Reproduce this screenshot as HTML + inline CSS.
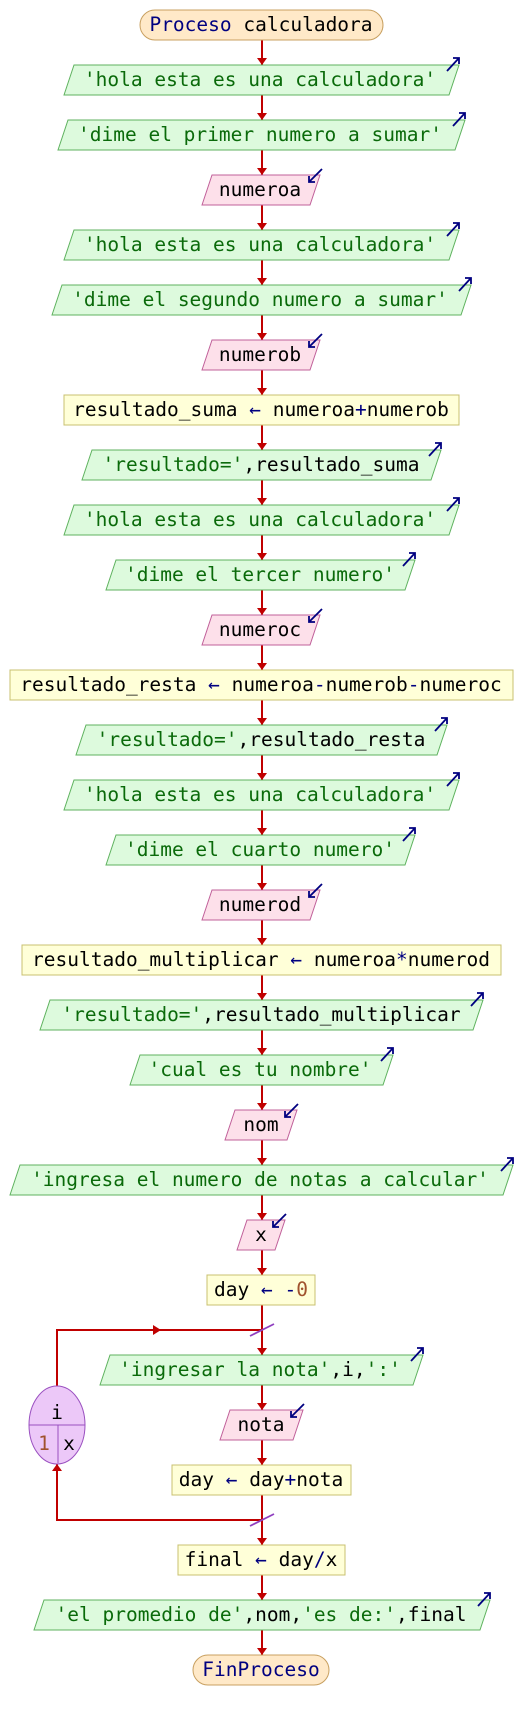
<!DOCTYPE html>
<html><head><meta charset="utf-8"><style>
html,body{margin:0;padding:0;background:#fff;}
svg{display:block;}
text{font-family:"DejaVu Sans Mono","Liberation Mono",monospace;font-size:19.5px;}
.g{fill:#0a6a0a}.k{fill:#000}.n{fill:#000080}.o{fill:#a0522d}
.out{fill:#ddfadd;stroke:#5fb25f;stroke-width:1}
.inp{fill:#fde0ea;stroke:#c0609a;stroke-width:1}
.asg{fill:#ffffd8;stroke:#c8c070;stroke-width:1}
.ic{stroke:#000080;stroke-width:1.8;fill:none}
</style></head><body>
<svg width="524" height="1720" viewBox="0 0 524 1720" xmlns="http://www.w3.org/2000/svg">
<rect width="524" height="1720" fill="#fff"/>
<!-- main spine -->
<line x1="262" y1="40" x2="262" y2="1655" stroke="#c00000" stroke-width="2"/>
<!-- loop -->
<polyline points="262,1520 57,1520 57,1464" fill="none" stroke="#c00000" stroke-width="2"/>
<polyline points="57,1386 57,1330 262,1330" fill="none" stroke="#c00000" stroke-width="2"/>
<polygon points="153,1325 161,1330 153,1335" fill="#c00000"/>
<polygon points="52,1471 62,1471 57,1464" fill="#c00000"/>
<line x1="250" y1="1336" x2="274" y2="1324" stroke="#9040c0" stroke-width="1.8"/>
<line x1="250" y1="1526" x2="274" y2="1514" stroke="#9040c0" stroke-width="1.8"/>
<!-- arrowheads -->
<g fill="#c00000">
<polygon points="257,58 267,58 262,65"/><polygon points="257,113 267,113 262,120"/>
<polygon points="257,168 267,168 262,175"/><polygon points="257,223 267,223 262,230"/>
<polygon points="257,278 267,278 262,285"/><polygon points="257,333 267,333 262,340"/>
<polygon points="257,388 267,388 262,395"/><polygon points="257,443 267,443 262,450"/>
<polygon points="257,498 267,498 262,505"/><polygon points="257,553 267,553 262,560"/>
<polygon points="257,608 267,608 262,615"/><polygon points="257,663 267,663 262,670"/>
<polygon points="257,718 267,718 262,725"/><polygon points="257,773 267,773 262,780"/>
<polygon points="257,828 267,828 262,835"/><polygon points="257,883 267,883 262,890"/>
<polygon points="257,938 267,938 262,945"/><polygon points="257,993 267,993 262,1000"/>
<polygon points="257,1048 267,1048 262,1055"/><polygon points="257,1103 267,1103 262,1110"/>
<polygon points="257,1158 267,1158 262,1165"/><polygon points="257,1213 267,1213 262,1220"/>
<polygon points="257,1268 267,1268 262,1275"/><polygon points="257,1348 267,1348 262,1355"/>
<polygon points="257,1403 267,1403 262,1410"/><polygon points="257,1458 267,1458 262,1465"/>
<polygon points="257,1538 267,1538 262,1545"/><polygon points="257,1593 267,1593 262,1600"/>
<polygon points="257,1648 267,1648 262,1655"/>
</g>

<!-- start -->
<rect x="140" y="10" width="243" height="30" rx="15" fill="#ffe9c8" stroke="#c8a060"/>
<text x="261" y="31" text-anchor="middle"><tspan class="n">Proceso</tspan> <tspan class="k">calculadora</tspan></text>

<!-- outputs -->
<polygon class="out" points="64,95 74,65 459,65 449,95"/>
<text x="260" y="86" text-anchor="middle" class="g">'hola esta es una calculadora'</text>
<path class="ic" d="M447,71 L459,58 M453,58 L459,58 L459,64"/>

<polygon class="out" points="58,150 68,120 465,120 455,150"/>
<text x="260" y="141" text-anchor="middle" class="g">'dime el primer numero a sumar'</text>
<path class="ic" d="M453,126 L465,113 M459,113 L465,113 L465,119"/>

<polygon class="inp" points="202,205 212,175 320,175 310,205"/>
<text x="260" y="196" text-anchor="middle" class="k">numeroa</text>
<path class="ic" d="M322,169 L309,182 M309,176 L309,182 L315,182"/>

<polygon class="out" points="64,260 74,230 459,230 449,260"/>
<text x="260" y="251" text-anchor="middle" class="g">'hola esta es una calculadora'</text>
<path class="ic" d="M447,236 L459,223 M453,223 L459,223 L459,229"/>

<polygon class="out" points="52,315 62,285 471,285 461,315"/>
<text x="260" y="306" text-anchor="middle" class="g">'dime el segundo numero a sumar'</text>
<path class="ic" d="M459,291 L471,278 M465,278 L471,278 L471,284"/>

<polygon class="inp" points="202,370 212,340 320,340 310,370"/>
<text x="260" y="361" text-anchor="middle" class="k">numerob</text>
<path class="ic" d="M322,334 L309,347 M309,341 L309,347 L315,347"/>

<rect class="asg" x="64" y="395" width="395" height="30"/>
<text x="261" y="416" text-anchor="middle"><tspan class="k">resultado_suma</tspan> <tspan class="n">←</tspan> <tspan class="k">numeroa</tspan><tspan class="n">+</tspan><tspan class="k">numerob</tspan></text>

<polygon class="out" points="82,480 92,450 441,450 431,480"/>
<text x="261" y="471" text-anchor="middle"><tspan class="g">'resultado='</tspan><tspan class="k">,resultado_suma</tspan></text>
<path class="ic" d="M429,456 L441,443 M435,443 L441,443 L441,449"/>

<polygon class="out" points="64,535 74,505 459,505 449,535"/>
<text x="260" y="526" text-anchor="middle" class="g">'hola esta es una calculadora'</text>
<path class="ic" d="M447,511 L459,498 M453,498 L459,498 L459,504"/>

<polygon class="out" points="106,590 116,560 415,560 405,590"/>
<text x="260" y="581" text-anchor="middle" class="g">'dime el tercer numero'</text>
<path class="ic" d="M403,566 L415,553 M409,553 L415,553 L415,559"/>

<polygon class="inp" points="202,645 212,615 320,615 310,645"/>
<text x="260" y="636" text-anchor="middle" class="k">numeroc</text>
<path class="ic" d="M322,609 L309,622 M309,616 L309,622 L315,622"/>

<rect class="asg" x="10" y="670" width="503" height="30"/>
<text x="261" y="691" text-anchor="middle"><tspan class="k">resultado_resta</tspan> <tspan class="n">←</tspan> <tspan class="k">numeroa</tspan><tspan class="n">-</tspan><tspan class="k">numerob</tspan><tspan class="n">-</tspan><tspan class="k">numeroc</tspan></text>

<polygon class="out" points="76,755 86,725 447,725 437,755"/>
<text x="261" y="746" text-anchor="middle"><tspan class="g">'resultado='</tspan><tspan class="k">,resultado_resta</tspan></text>
<path class="ic" d="M435,731 L447,718 M441,718 L447,718 L447,724"/>

<polygon class="out" points="64,810 74,780 459,780 449,810"/>
<text x="260" y="801" text-anchor="middle" class="g">'hola esta es una calculadora'</text>
<path class="ic" d="M447,786 L459,773 M453,773 L459,773 L459,779"/>

<polygon class="out" points="106,865 116,835 415,835 405,865"/>
<text x="260" y="856" text-anchor="middle" class="g">'dime el cuarto numero'</text>
<path class="ic" d="M403,841 L415,828 M409,828 L415,828 L415,834"/>

<polygon class="inp" points="202,920 212,890 320,890 310,920"/>
<text x="260" y="911" text-anchor="middle" class="k">numerod</text>
<path class="ic" d="M322,884 L309,897 M309,891 L309,897 L315,897"/>

<rect class="asg" x="22" y="945" width="479" height="30"/>
<text x="261" y="966" text-anchor="middle"><tspan class="k">resultado_multiplicar</tspan> <tspan class="n">←</tspan> <tspan class="k">numeroa</tspan><tspan class="n">*</tspan><tspan class="k">numerod</tspan></text>

<polygon class="out" points="40,1030 50,1000 483,1000 473,1030"/>
<text x="261" y="1021" text-anchor="middle"><tspan class="g">'resultado='</tspan><tspan class="k">,resultado_multiplicar</tspan></text>
<path class="ic" d="M471,1006 L483,993 M477,993 L483,993 L483,999"/>

<polygon class="out" points="130,1085 140,1055 393,1055 383,1085"/>
<text x="260" y="1076" text-anchor="middle" class="g">'cual es tu nombre'</text>
<path class="ic" d="M381,1061 L393,1048 M387,1048 L393,1048 L393,1054"/>

<polygon class="inp" points="225,1140 235,1110 297,1110 287,1140"/>
<text x="261" y="1131" text-anchor="middle" class="k">nom</text>
<path class="ic" d="M298,1104 L285,1117 M285,1111 L285,1117 L291,1117"/>

<polygon class="out" points="10,1195 20,1165 513,1165 503,1195"/>
<text x="260" y="1186" text-anchor="middle" class="g">'ingresa el numero de notas a calcular'</text>
<path class="ic" d="M501,1171 L513,1158 M507,1158 L513,1158 L513,1164"/>

<polygon class="inp" points="237,1250 247,1220 285,1220 275,1250"/>
<text x="261" y="1241" text-anchor="middle" class="k">x</text>
<path class="ic" d="M286,1214 L273,1227 M273,1221 L273,1227 L279,1227"/>

<rect class="asg" x="207" y="1275" width="108" height="30"/>
<text x="261" y="1296" text-anchor="middle"><tspan class="k">day</tspan> <tspan class="n">←</tspan> <tspan class="n">-</tspan><tspan class="o">0</tspan></text>

<!-- loop ellipse -->
<ellipse cx="57" cy="1425" rx="28" ry="39" fill="#ecc8f8" stroke="#9a50c0"/>
<line x1="29" y1="1425" x2="85" y2="1425" stroke="#9a50c0"/>
<line x1="58" y1="1425" x2="58" y2="1463" stroke="#9a50c0"/>
<text x="57" y="1419" text-anchor="middle" class="k">i</text>
<text x="44" y="1450" text-anchor="middle" class="o">1</text>
<text x="69" y="1450" text-anchor="middle" class="k">x</text>

<polygon class="out" points="100,1385 110,1355 423,1355 413,1385"/>
<text x="260" y="1376" text-anchor="middle"><tspan class="g">'ingresar la nota'</tspan><tspan class="k">,i,</tspan><tspan class="g">':'</tspan></text>
<path class="ic" d="M411,1361 L423,1348 M417,1348 L423,1348 L423,1354"/>

<polygon class="inp" points="220,1440 230,1410 303,1410 293,1440"/>
<text x="261" y="1431" text-anchor="middle" class="k">nota</text>
<path class="ic" d="M304,1404 L291,1417 M291,1411 L291,1417 L297,1417"/>

<rect class="asg" x="172" y="1465" width="179" height="30"/>
<text x="261" y="1486" text-anchor="middle"><tspan class="k">day</tspan> <tspan class="n">←</tspan> <tspan class="k">day</tspan><tspan class="n">+</tspan><tspan class="k">nota</tspan></text>

<rect class="asg" x="178" y="1545" width="167" height="30"/>
<text x="261" y="1566" text-anchor="middle"><tspan class="k">final</tspan> <tspan class="n">←</tspan> <tspan class="k">day</tspan><tspan class="n">/</tspan><tspan class="k">x</tspan></text>

<polygon class="out" points="34,1630 44,1600 490,1600 480,1630"/>
<text x="261" y="1621" text-anchor="middle"><tspan class="g">'el promedio de'</tspan><tspan class="k">,nom,</tspan><tspan class="g">'es de:'</tspan><tspan class="k">,final</tspan></text>
<path class="ic" d="M478,1606 L490,1593 M484,1593 L490,1593 L490,1599"/>

<rect x="193" y="1655" width="136" height="30" rx="15" fill="#ffe9c8" stroke="#c8a060"/>
<text x="261" y="1676" text-anchor="middle" class="n">FinProceso</text>
</svg>
</body></html>
